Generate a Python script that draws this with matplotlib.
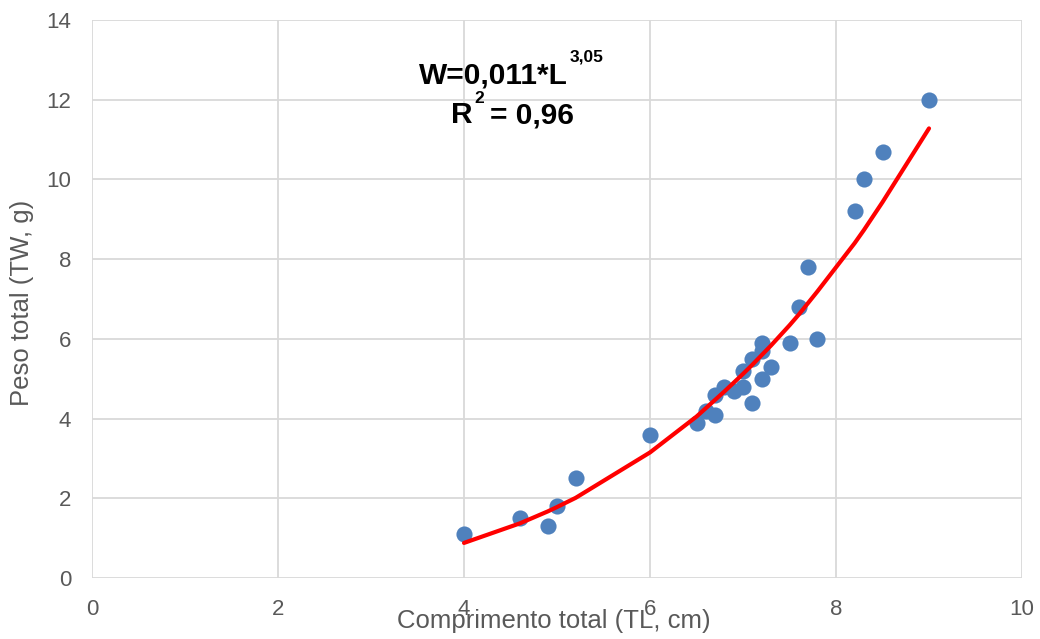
import matplotlib
matplotlib.use("Agg")
import matplotlib.pyplot as plt

plt.rcParams['font.family'] = ['Liberation Sans', 'DejaVu Sans']

# Observed data
tl = [4.0, 4.6, 4.9, 5.0, 5.2, 6.0, 6.5, 6.6, 6.7, 6.7, 6.8, 6.9, 7.0, 7.0,
      7.1, 7.1, 7.2, 7.2, 7.2, 7.3, 7.5, 7.6, 7.7, 7.8, 8.2, 8.3, 8.5, 9.0]
tw = [1.1, 1.5, 1.3, 1.8, 2.5, 3.6, 3.9, 4.2, 4.1, 4.6, 4.8, 4.7, 4.8, 5.2,
      5.5, 4.4, 5.9, 5.7, 5.0, 5.3, 5.9, 6.8, 7.8, 6.0, 9.2, 10.0, 10.7, 12.0]

# Trend line
fit_x = [4.0, 4.6, 4.9, 5.0, 5.2, 6.0, 6.5, 6.6, 6.7, 6.8, 6.9, 7.0, 7.1,
         7.2, 7.3, 7.5, 7.6, 7.7, 7.8, 8.2, 8.3, 8.5, 9.0]
fit_y = [0.88, 1.37, 1.67, 1.78, 2.01, 3.15, 4.05, 4.26, 4.47, 4.68, 4.90,
         5.12, 5.35, 5.59, 5.83, 6.34, 6.61, 6.90, 7.19, 8.40, 8.73, 9.43, 11.28]

xticks = [0, 2, 4, 6, 8, 10]
yticks = [0, 2, 4, 6, 8, 10, 12, 14]

W, H = 1040, 639
fig = plt.figure(figsize=(W / 100, H / 100), dpi=100)
ax = fig.add_axes([92 / W, 1 - 578 / H, (1022 - 92) / W, (578 - 20) / H])

ax.scatter(tl, tw, s=135, color='#4F81BD', zorder=3, linewidths=0)
ax.plot(fit_x, fit_y, color='#FF0000', lw=3.0, zorder=4, solid_capstyle='round')

ax.set_xlim(0, 10)
ax.set_ylim(0, 14)
ax.set_xticks(xticks)
ax.set_yticks(yticks)
ax.set_xticklabels([str(v) for v in xticks])
ax.set_yticklabels([str(v) for v in yticks])
ax.grid(True, color='#D9D9D9', lw=1.3, zorder=0)
ax.set_axisbelow(True)
for s in ax.spines.values():
    s.set_visible(False)
ax.tick_params(length=0, labelsize=16, labelcolor='#595959')
ax.tick_params(axis='x', pad=15)
ax.tick_params(axis='y', pad=15)

fig.text(554 / W, 1 - 628 / H, 'Comprimento total (TL, cm)', ha='center',
         va='baseline', fontsize=18.5, color='#595959')
fig.text(22 / W, 1 - 303 / H, 'Peso total (TW, g)', ha='center', va='center',
         rotation=90, fontsize=18.5, color='#595959')

def t(x, y, s, size):
    fig.text(x / W, 1 - y / H, s, ha='left', va='baseline', fontsize=size,
             fontweight='bold', color='black')

t(419, 83, 'W=0,011*L', 21.5)
t(570, 62, '3,05', 12.5)
t(451, 123, 'R', 21.5)
t(474, 103, '2', 12.5)
t(490, 123, '= 0,96', 21.5)

fig.savefig('out.png', dpi=100)
